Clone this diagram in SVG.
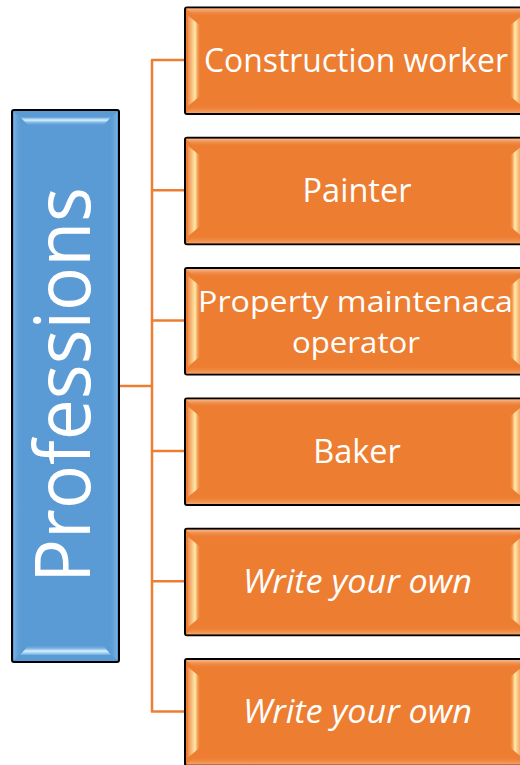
<svg xmlns="http://www.w3.org/2000/svg" width="520" height="765" viewBox="0 0 520 765">
<defs>
<style>
.box{fill:#ED7D31;stroke:#000;stroke-width:2}
.blue{fill:#5B9BD5;stroke:#000;stroke-width:2}
.lbl{font-family:"Open Sans","Liberation Sans",sans-serif;font-size:32.5px;fill:#fff;text-anchor:middle}
.big{font-size:77px}
.two{font-size:30px}
.it{font-style:italic}
.conn{stroke:#ED7D31;stroke-width:2.5;fill:none}
</style>
<linearGradient id="oTop" x1="0" y1="0" x2="0" y2="1"><stop offset="0" stop-color="#F7B98F"/><stop offset="1" stop-color="#ED7D31" stop-opacity="0"/></linearGradient>
<linearGradient id="oBot" x1="0" y1="1" x2="0" y2="0"><stop offset="0" stop-color="#F5A56C"/><stop offset="1" stop-color="#ED7D31" stop-opacity="0"/></linearGradient>
<linearGradient id="oL" x1="0" y1="0" x2="1" y2="0"><stop offset="0" stop-color="#F08D4E"/><stop offset="0.6" stop-color="#FFEBAA"/><stop offset="1" stop-color="#F0893F" stop-opacity="0.2"/></linearGradient>
<linearGradient id="oR" x1="1" y1="0" x2="0" y2="0"><stop offset="0" stop-color="#F08D4E"/><stop offset="0.6" stop-color="#FFEBAA"/><stop offset="1" stop-color="#F0893F" stop-opacity="0.2"/></linearGradient>
<linearGradient id="bTop" x1="0" y1="0" x2="0" y2="1"><stop offset="0" stop-color="#5B9BD5"/><stop offset="0.35" stop-color="#D4F2FF"/><stop offset="1" stop-color="#5B9BD5" stop-opacity="0"/></linearGradient>
<linearGradient id="bBot" x1="0" y1="1" x2="0" y2="0"><stop offset="0" stop-color="#6FAEE0"/><stop offset="0.4" stop-color="#D4F2FF"/><stop offset="1" stop-color="#5B9BD5" stop-opacity="0"/></linearGradient>
<linearGradient id="bSide" x1="0" y1="0" x2="1" y2="0"><stop offset="0" stop-color="#8FC0EA"/><stop offset="1" stop-color="#5B9BD5" stop-opacity="0"/></linearGradient>
<linearGradient id="bSideR" x1="1" y1="0" x2="0" y2="0"><stop offset="0" stop-color="#8FC0EA"/><stop offset="1" stop-color="#5B9BD5" stop-opacity="0"/></linearGradient>
<g id="bevel">
<polygon points="1,1 339,1 331,9 9,9" fill="url(#oTop)"/>
<polygon points="1,105.5 339,105.5 331,97.5 9,97.5" fill="url(#oBot)"/>
<polygon points="3,8 15,18 15,88.5 3,98.5" fill="url(#oL)"/>
<polygon points="337,8 325,18 325,88.5 337,98.5" fill="url(#oR)"/>
</g>
</defs>
<g id="connectors">
<line class="conn" x1="119" y1="386" x2="152" y2="386" stroke-width="3.5"/>
<line class="conn" x1="152" y1="60" x2="152" y2="711.5"/>
<line class="conn" x1="151" y1="60" x2="185" y2="60"/>
<line class="conn" x1="151" y1="190.3" x2="185" y2="190.3"/>
<line class="conn" x1="151" y1="320.6" x2="185" y2="320.6"/>
<line class="conn" x1="151" y1="450.9" x2="185" y2="450.9"/>
<line class="conn" x1="151" y1="581.2" x2="185" y2="581.2"/>
<line class="conn" x1="151" y1="711.5" x2="185" y2="711.5"/>
</g>
<g id="root">
<rect class="blue" x="12" y="110" width="107" height="552" rx="2"/>
<polygon points="14,112 14,660 22,652 22,120" fill="url(#bSide)" opacity="0.6"/>
<polygon points="117,112 117,660 109,652 109,120" fill="url(#bSideR)" opacity="0.6"/>
<polygon points="20,117 111,117 103,126 29,126" fill="url(#bTop)"/>
<polygon points="29,645 103,645 111,655 20,655" fill="url(#bBot)"/>
<text class="lbl big" transform="translate(90,385) rotate(-90)" textLength="396" lengthAdjust="spacingAndGlyphs">Professions</text>
</g>
<g id="n1">
<rect class="box" x="185" y="7.5" width="340" height="106.5" rx="2"/>
<use href="#bevel" x="185" y="7.5"/>
<text class="lbl" x="356" y="72" textLength="304" lengthAdjust="spacingAndGlyphs">Construction worker</text>
</g>
<g id="n2">
<rect class="box" x="185" y="137.8" width="340" height="106.5" rx="2"/>
<use href="#bevel" x="185" y="137.8"/>
<text class="lbl" x="357" y="202.3">Painter</text>
</g>
<g id="n3">
<rect class="box" x="185" y="268.1" width="340" height="106.5" rx="2"/>
<use href="#bevel" x="185" y="268.1"/>
<text class="lbl two" x="355.5" y="311.5" textLength="315" lengthAdjust="spacingAndGlyphs">Property maintenaca</text>
<text class="lbl two" x="356" y="352.5" textLength="128" lengthAdjust="spacingAndGlyphs">operator</text>
</g>
<g id="n4">
<rect class="box" x="185" y="398.4" width="340" height="106.5" rx="2"/>
<use href="#bevel" x="185" y="398.4"/>
<text class="lbl" x="357" y="463">Baker</text>
</g>
<g id="n5">
<rect class="box" x="185" y="528.7" width="340" height="106.5" rx="2"/>
<use href="#bevel" x="185" y="528.7"/>
<text class="lbl it" x="357.5" y="592.5" textLength="229" lengthAdjust="spacingAndGlyphs">Write your own</text>
</g>
<g id="n6">
<rect class="box" x="185" y="659" width="340" height="106.5" rx="2"/>
<use href="#bevel" x="185" y="659"/>
<text class="lbl it" x="357.5" y="723" textLength="229" lengthAdjust="spacingAndGlyphs">Write your own</text>
</g>
</svg>
